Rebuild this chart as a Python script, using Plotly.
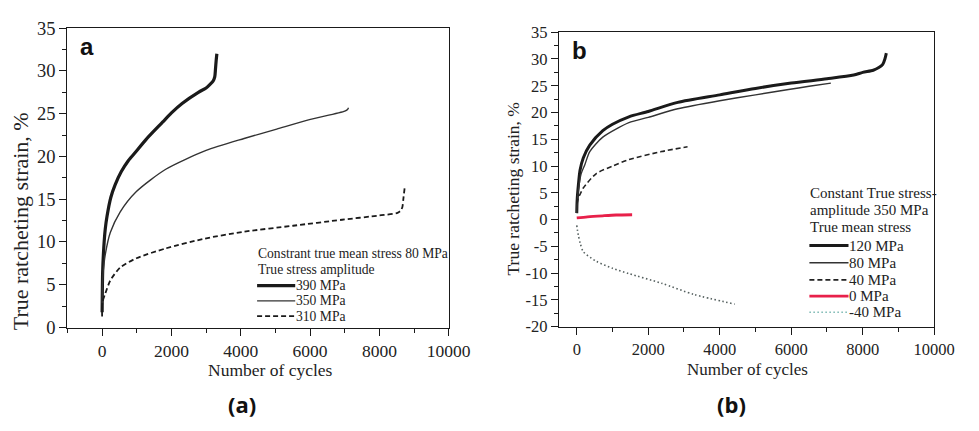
import plotly.graph_objects as go

# ---------------- Panel (a): constant true mean stress 80 MPa ----------------
a390_n = [0, 15, 47, 90, 141, 250, 377, 550, 754, 942, 1271, 1743, 2000, 2307, 2777, 3000, 3107, 3200, 3249, 3270, 3290, 3310]
a390_v = [1.8, 6.5, 9.3, 11.5, 13.0, 15.2, 16.7, 18.2, 19.5, 20.4, 22.0, 24.0, 25.1, 26.2, 27.5, 28.0, 28.4, 28.8, 29.3, 30.2, 31.2, 32.0]

a350_n = [0, 6, 30, 94, 236, 518, 989, 1836, 3000, 4096, 5037, 5980, 7000, 7080, 7109]
a350_v = [2.5, 4.8, 6.5, 8.6, 11.1, 13.5, 15.9, 18.5, 20.7, 22.1, 23.2, 24.3, 25.3, 25.5, 25.7]

a310_n = [0, 6, 94, 236, 518, 989, 1836, 2966, 4096, 5508, 6921, 8000, 8522, 8620, 8663, 8690, 8730]
a310_v = [1.3, 2.9, 4.0, 5.5, 7.0, 8.1, 9.25, 10.4, 11.2, 11.9, 12.6, 13.1, 13.4, 13.7, 14.1, 15.0, 16.4]

# ---------------- Panel (b): constant true stress amplitude 350 MPa ----------------
b120_n = [0, 10, 46, 91, 182, 364, 729, 1000, 1458, 2000, 2825, 4000, 5000, 6000, 7000, 7747, 8000, 8294, 8450, 8560, 8620, 8660]
b120_v = [1.2, 3.5, 6.5, 9.2, 11.5, 13.9, 16.6, 17.8, 19.2, 20.2, 21.9, 23.3, 24.5, 25.5, 26.3, 27.0, 27.5, 27.9, 28.4, 29.0, 30.0, 31.1]

b80_n = [0, 10, 46, 120, 228, 364, 729, 1458, 2000, 2825, 4000, 5000, 5925, 6500, 7109]
b80_v = [1.2, 3.0, 5.5, 8.5, 10.3, 12.7, 15.4, 18.1, 19.1, 20.7, 22.2, 23.3, 24.3, 24.9, 25.5]

b40_n = [10, 40, 91, 182, 547, 1003, 1458, 2370, 3099]
b40_v = [3.0, 4.0, 4.7, 5.9, 8.6, 10.0, 11.2, 12.7, 13.6]

b0_n = [0, 300, 729, 1100, 1549]
b0_v = [0.3, 0.5, 0.7, 0.85, 0.9]

bm40_n = [0, 20, 46, 100, 182, 547, 1000, 1458, 2370, 3281, 4420]
bm40_v = [-1.1, -2.0, -3.0, -4.5, -6.0, -7.8, -9.1, -10.1, -11.9, -14.0, -15.8]

# ---------------- tick labels ----------------
x_tickvals = [0, 2000, 4000, 6000, 8000, 10000]
x_ticktext = ["0", "2000", "4000", "6000", "8000", "10000"]
x_minor = [-1000, 1000, 3000, 5000, 7000, 9000]
ya_tickvals = [0, 5, 10, 15, 20, 25, 30, 35]
ya_ticktext = ["0", "5", "10", "15", "20", "25", "30", "35"]
ya_minor = [2.5, 7.5, 12.5, 17.5, 22.5, 27.5, 32.5]
yb_tickvals = [-20, -15, -10, -5, 0, 5, 10, 15, 20, 25, 30, 35]
yb_ticktext = ["-20", "-15", "-10", "-5", "0", "5", "10", "15", "20", "25", "30", "35"]
yb_minor = [-17.5, -12.5, -7.5, -2.5, 2.5, 7.5, 12.5, 17.5, 22.5, 27.5, 32.5]

# axis titles and legend texts
x_title = "Number of cycles"
y_title = "True ratcheting strain, %"
legend_a_title = ["Constrant true mean stress 80 MPa", "True stress amplitude"]
legend_a_items = ["390 MPa", "350 MPa", "310 MPa"]
legend_b_title = ["Constant True stress-", "amplitude 350 MPa", "True mean stress"]
legend_b_items = ["120 MPa", "80 MPa", "40 MPa", "0 MPa", "-40 MPa"]

SERIF = "Liberation Serif"
INK = "#1a1a1a"
TXT = "#222222"
W, H = 979, 431

# styles: (color, width, dash)
style_a = [(INK, 3.2, "solid"), ("#333333", 1.4, "solid"), (INK, 1.8, "5px,3px")]
style_b = [(INK, 3.0, "solid"), ("#333333", 1.4, "solid"), ("#222222", 1.6, "5px,3px"),
           ("#e8204a", 2.8, "solid"), ("#55605f", 1.6, "1.5px,2.5px")]
legend_b_sample_colors = [INK, "#333333", "#222222", "#e8204a", "#7ab8b2"]

fig = go.Figure()


def add(x, y, name, xa, ya, st):
    color, width, dash = st
    fig.add_trace(go.Scatter(
        x=x, y=y, mode="lines", name=name, xaxis=xa, yaxis=ya, showlegend=False,
        line=dict(color=color, width=width, dash=dash, shape="spline", smoothing=0.7),
    ))


add(a390_n, a390_v, legend_a_items[0], "x", "y", style_a[0])
add(a350_n, a350_v, legend_a_items[1], "x", "y", style_a[1])
add(a310_n, a310_v, legend_a_items[2], "x", "y", style_a[2])

add(b120_n, b120_v, legend_b_items[0], "x2", "y2", style_b[0])
add(b80_n, b80_v, legend_b_items[1], "x2", "y2", style_b[1])
add(b40_n, b40_v, legend_b_items[2], "x2", "y2", style_b[2])
add(b0_n, b0_v, legend_b_items[3], "x2", "y2", style_b[3])
add(bm40_n, bm40_v, legend_b_items[4], "x2", "y2", style_b[4])


def xaxis(domain, rng, fs, anchor):
    return dict(
        domain=domain, range=rng, anchor=anchor, tickmode="array", tickvals=x_tickvals, ticktext=x_ticktext,
        ticks="outside", ticklen=7, tickwidth=1.2, tickcolor=INK,
        minor=dict(tickmode="array", tickvals=x_minor, ticks="outside", ticklen=4, tickwidth=1.1, tickcolor=INK),
        showline=True, mirror=True, linecolor=INK, linewidth=1.3,
        showgrid=False, zeroline=False,
        tickfont=dict(family=SERIF, size=fs, color=TXT),
    )


def yaxis(domain, rng, tv, tt, mv, fs, anchor):
    return dict(
        domain=domain, range=rng, anchor=anchor, tickmode="array", tickvals=tv, ticktext=tt,
        ticks="outside", ticklen=7, tickwidth=1.2, tickcolor=INK,
        minor=dict(tickmode="array", tickvals=mv, ticks="outside", ticklen=4, tickwidth=1.1, tickcolor=INK),
        showline=True, mirror=True, linecolor=INK, linewidth=1.3,
        showgrid=False, zeroline=False,
        tickfont=dict(family=SERIF, size=fs, color=TXT),
    )


shapes = []
annotations = []


def px_x(p):
    return p / W


def px_y(p):
    return 1 - p / H


def text(t, x, y, fam, fs, xanchor="center", angle=0, color=TXT):
    annotations.append(dict(text=t, xref="paper", yref="paper", x=px_x(x), y=px_y(y),
                            xanchor=xanchor, yanchor="middle", showarrow=False, textangle=angle,
                            borderpad=0, font=dict(family=fam, size=fs, color=color)))


def legend_block(title_lines, title_y, items, item_y, styles, sample_colors, x0, x1, xt, fs):
    for t, y in zip(title_lines, title_y):
        text(t, x0, y, SERIF, fs, "left")
    for name, y, st, c in zip(items, item_y, styles, sample_colors):
        _, width, dash = st
        shapes.append(dict(type="line", xref="paper", yref="paper", x0=px_x(x0), x1=px_x(x1),
                           y0=px_y(y), y1=px_y(y), line=dict(color=c, width=width, dash=dash)))
        text(name, xt, y, SERIF, fs, "left")


legend_block(legend_a_title, [255, 272], legend_a_items, [289, 305, 321], style_a,
             [s[0] for s in style_a], 263, 302, 302, 13.6)
legend_block(legend_b_title, [192, 210, 228], legend_b_items, [247, 265, 283, 300, 317], style_b,
             legend_b_sample_colors, 828, 868, 868, 15)

# axis titles
text(x_title, 277, 378, SERIF, 17.5)
text(y_title, 21, 222, SERIF, 22, angle=-90)
text(x_title, 765, 377, SERIF, 17)
text(y_title, 525, 188, SERIF, 17.5, angle=-90)

# panel letters and captions
text("<b>a</b>", 89, 38, "Liberation Sans", 24, color="#111")
text("<b>b</b>", 593, 42, "Liberation Sans", 24, color="#111")
text("<b>(a)</b>", 248, 413, "Open Sans", 22, color="#111")
text("<b>(b)</b>", 748, 413, "Open Sans", 22, color="#111")

fig.update_layout(
    width=W, height=H, margin=dict(l=0, r=0, t=0, b=0),
    paper_bgcolor="white", plot_bgcolor="white",
    showlegend=False,
    xaxis=xaxis([0.0705, 0.4689], [-1000, 10000], 17.5, "y"),
    yaxis=yaxis([0.2274, 0.9559], [0, 35], ya_tickvals, ya_ticktext, ya_minor, 18.5, "x"),
    xaxis2=xaxis([0.5840, 0.9762], [-500, 10000], 16.5, "y2"),
    yaxis2=yaxis([0.2297, 0.9459], [-20, 35], yb_tickvals, yb_ticktext, yb_minor, 16.5, "x2"),
    shapes=shapes,
    annotations=annotations,
)

fig.write_html("out.html")
